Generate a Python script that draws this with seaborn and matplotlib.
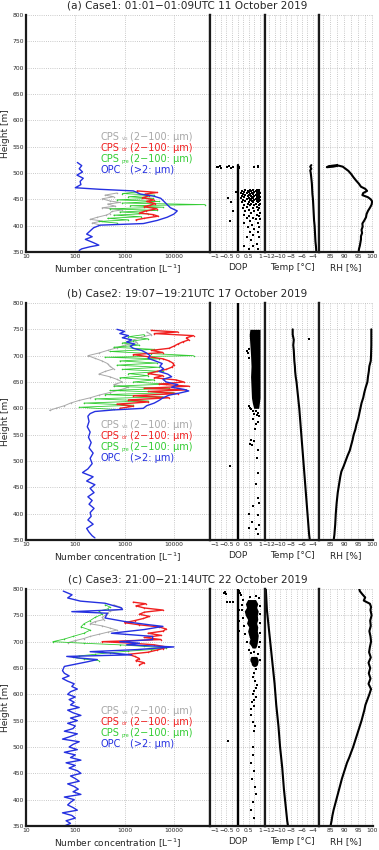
import numpy as np
import matplotlib
matplotlib.use("Agg")
import matplotlib.pyplot as plt
import seaborn as sns

# --------------------------------------------------
# DATA
# --------------------------------------------------

# ---- case 1 ----
opc_a_h = [520, 514, 508, 502, 496, 490, 484, 478, 472, 469, 466, 460, 456, 452, 446, 440, 434,
           428, 422, 416, 410, 404, 401, 396, 390, 384, 379, 374, 368, 363, 360, 356, 353]
opc_a_v = [110, 135, 120, 140, 108, 145, 125, 130, 100, 320, 1500, 2100, 3900, 5400, 6300, 7300, 8500,
           11700, 10000, 7300, 4600, 2400, 320, 235, 200, 170, 220, 160, 230, 300, 200, 135, 120]
red_a_h = [466, 463, 460, 457, 453, 449, 446, 442, 439, 436, 432, 428, 424, 421, 418, 414, 411]
red_a_v = [1800, 4600, 2600, 3200, 2300, 3900, 2800, 4200, 3300, 2500, 4500, 2700, 2000, 3800, 4800, 2500, 1700]
grn_a_h = [464, 461, 458, 455, 452, 449, 446, 443, 440, 438, 435, 432, 429, 426, 423, 420, 417, 414, 411, 408, 405]
grn_a_v = [1800, 900, 4000, 1200, 3800, 700, 5000, 900, 43000, 1300, 6000, 500, 4500, 800, 3000, 600,
           2200, 450, 1200, 300, 700]
gry_a_h = [462, 458, 455, 451, 447, 444, 441, 437, 434, 430, 427, 423, 420, 416, 412, 409, 405, 402]
gry_a_v = [700, 400, 600, 350, 500, 800, 450, 650, 350, 900, 550, 500, 420, 280, 200, 350, 220, 300]

dop_a_h = [512, 511, 513, 510, 512, 513, 510, 511, 512, 510, 512, 511, 513,
           468, 468, 468, 468, 468, 466, 466, 466, 466, 466, 464, 464, 464, 464, 464,
           462, 462, 462, 462, 462, 460, 460, 460, 460, 458, 458, 458, 458,
           456, 456, 456, 456, 456, 454, 454, 454, 454, 452, 452, 452, 452, 452,
           450, 450, 450, 450, 448, 448, 448, 448, 446, 446, 446, 446,
           444, 444, 444, 444, 444, 442, 442, 442, 442, 440, 440, 440, 440,
           436, 436, 433, 433, 433, 430, 430, 427, 427, 427, 424, 424, 421, 421, 418, 418,
           415, 415, 412, 412, 408, 408, 405, 405, 402, 398, 398, 393, 388, 388, 383,
           378, 378, 372, 366, 361, 361, 356, 356]
dop_a_v = [-0.92, -0.85, -0.78, -0.72, -0.45, -0.38, -0.3, -0.18, 0.05, 0.08, 0.75, 0.9, 0.93,
           0.35, 0.55, 0.7, 0.85, 0.95, 0.2, 0.45, 0.6, 0.8, 0.95, -0.05, 0.3, 0.5, 0.75, 0.9,
           0.15, 0.4, 0.65, 0.85, 1.0, 0.25, 0.55, 0.7, 0.9, 0.35, 0.5, 0.8, 0.95,
           0.2, 0.45, 0.6, 0.75, 0.9, 0.3, 0.65, 0.85, 1.0, -0.4, 0.15, 0.5, 0.7, 0.95,
           0.4, 0.6, 0.8, 0.9, 0.25, 0.55, 0.75, 1.0, 0.35, 0.65, 0.85, 0.95,
           -0.3, 0.2, 0.5, 0.7, 0.9, 0.45, 0.6, 0.8, 1.0, 0.3, 0.55, 0.75, 0.95,
           0.4, 0.85, 0.25, 0.7, 0.95, 0.5, 0.9, -0.2, 0.35, 0.75, 0.6, 1.0, 0.3, 0.85, 0.5, 0.95,
           0.4, 0.7, 0.8, 1.0, -0.35, 0.55, 0.3, 0.9, 0.65, 0.45, 0.95, 0.75, 0.55, 0.9, 0.7,
           0.4, 0.95, 0.6, 0.85, 0.3, 0.7, 0.5, 0.9]

tmp_a_h = [515, 512, 508, 505, 500, 490, 480, 470, 460, 450, 440, 430, 420, 410, 400, 390, 380, 370, 360, 352]
tmp_a_v = [-4.3, -4.5, -4.3, -4.5, -4.4, -4.3, -4.2, -4.15, -4.1, -4.0, -3.95, -3.9, -3.85, -3.8,
           -3.7, -3.65, -3.6, -3.55, -3.45, -3.4]
rh_a_h = [515, 513, 511, 512, 514, 512, 508, 504, 498, 492, 486, 480, 474, 470, 466, 462, 458, 454,
          450, 446, 440, 434, 428, 422, 416, 410, 404, 398, 392, 386, 380, 374, 368, 362, 356, 352]
rh_a_v = [87.5, 84.5, 83.8, 86, 88, 89.5, 90.5, 91.5, 92.5, 93.3, 94.2, 95.2, 96, 97.5, 98.2, 96.8,
          96.5, 98.5, 99.5, 100, 99.8, 99.2, 98.5, 98, 97.8, 97.2, 96.5, 96.6, 96.2, 96.4, 96, 96,
          95.8, 95.6, 95.3, 95.2]

# ---- case 2 ----
opc_b_h = [750, 746, 742, 738, 734, 730, 726, 722, 718, 714, 710, 705, 700, 695, 690, 685, 680,
           675, 670, 665, 660, 655, 650, 645, 640, 636, 633, 629, 625, 620, 615, 610, 605, 600,
           597, 594, 590, 585, 575, 565, 555, 545, 535, 525, 515, 505, 495, 485, 478, 470, 462,
           455, 448, 440, 432, 425, 418, 410, 402, 395, 388, 380, 372, 365, 358, 354]
opc_b_v = [700, 1000, 800, 1200, 900, 1400, 1100, 1600, 1300, 1500, 2200, 2800, 3300, 3000, 4200,
           5800, 5200, 6200, 5000, 7500, 9000, 6000, 7000, 12000, 9000, 16000, 20000, 13000, 8000,
           6000, 5000, 4000, 2800, 2400, 600, 250, 200, 180, 190, 175, 200, 185, 210, 190, 230,
           200, 220, 180, 140, 230, 170, 250, 200, 240, 180, 220, 190, 240, 200, 210, 180, 230,
           170, 190, 220, 250]
red_b_h = [748, 745, 742, 738, 734, 730, 726, 722, 718, 714, 710, 706, 702, 698, 694, 690, 686, 682,
           678, 674, 670, 666, 662, 658, 654, 650, 646, 642, 638, 635, 632, 628, 624, 620, 616, 612,
           608, 604, 600]
red_b_v = [3500, 12000, 4000, 25000, 18000, 20000, 15000, 12000, 10000, 8000, 3500, 6000, 1500, 3000,
           6000, 8000, 9500, 10000, 9000, 7000, 4500, 3000, 6000, 4000, 11000, 16000, 5000, 20000,
           2500, 18000, 3000, 12000, 1500, 8000, 1200, 3000, 700, 1500, 800]
grn_b_h = [740, 736, 732, 728, 724, 720, 716, 712, 708, 704, 700, 697, 694, 690, 686, 682, 678, 674,
           670, 666, 662, 658, 654, 650, 646, 642, 638, 634, 630, 626, 622, 618, 614, 610, 606, 602, 598]
grn_b_v = [2500, 1200, 3000, 1500, 900, 2000, 600, 4000, 500, 3500, 25000, 400, 5000, 800, 4500, 700,
           5000, 900, 6000, 1200, 3000, 800, 4000, 1500, 7000, 600, 8000, 500, 10000, 400, 6000, 250,
           3000, 150, 1500, 120, 600]
gry_b_h = [745, 740, 735, 730, 725, 720, 715, 710, 705, 700, 695, 690, 685, 680, 675, 670, 665, 660,
           655, 650, 645, 640, 635, 630, 625, 620, 615, 610, 605, 600, 596]
gry_b_v = [2800, 3500, 2200, 1500, 1800, 1000, 700, 450, 300, 180, 250, 350, 450, 500, 600, 400, 300,
           500, 700, 900, 600, 1200, 800, 500, 300, 200, 120, 80, 60, 40, 30]

# dense DOP block (edges) and single DOP samples
blk_b_h = [750, 740, 720, 700, 680, 660, 640, 620, 610, 600]
blk_b_lo = [0.55, 0.52, 0.55, 0.58, 0.6, 0.58, 0.6, 0.62, 0.66, 0.72]
blk_b_hi = [1.0, 1.0, 1.0, 1.0, 1.0, 1.0, 1.0, 1.0, 0.97, 0.94]
dop_b_h = [708, 705, 712, 695, 605, 600, 598, 595, 594, 592, 590, 588, 585, 580, 575, 570, 560, 540,
           538, 533, 530, 520, 505, 490, 478, 456, 430, 420, 415, 400, 398, 385, 378, 372, 370, 362]
dop_b_v = [0.4, 0.45, 0.52, 0.5, 0.5, 0.55, 0.62, 0.8, 0.68, 0.9, 0.72, 0.85, 0.95, 0.68, 0.9, 0.8,
           0.78, 0.6, 0.75, 0.55, 0.65, 0.9, 0.85, -0.32, 0.9, 0.8, 0.9, 0.95, 0.7, 0.5, 0.9, 0.65,
           0.95, 0.5, 0.8, 0.9]

tmp_b_h = [750, 740, 730, 720, 710, 700, 690, 680, 670, 660, 650, 640, 620, 600, 580, 560, 540, 520,
           500, 480, 460, 440, 420, 400, 380, 360, 352]
tmp_b_v = [-7.7, -7.7, -7.5, -7.6, -7.5, -7.45, -7.4, -7.3, -7.25, -7.15, -7.0, -6.9, -6.7, -6.5,
           -6.35, -6.2, -6.05, -5.9, -5.75, -5.6, -5.45, -5.3, -5.15, -5.0, -4.85, -4.7, -4.6]
tmp_b_out_h = [732]
tmp_b_out_v = [-4.8]
rh_b_h = [750, 720, 700, 690, 680, 670, 660, 650, 640, 630, 620, 610, 600, 590, 580, 570, 560, 550,
          540, 530, 520, 510, 500, 490, 480, 470, 460, 450, 440, 420, 400, 380, 360, 352]
rh_b_v = [99.7, 99.7, 99.6, 99.5, 99.0, 98.8, 98.5, 98.3, 97.7, 97.2, 96.8, 96.2, 95.8, 95.4, 95.0,
          94.4, 94.0, 93.4, 93.0, 92.5, 92.0, 91.2, 90.5, 89.8, 89.0, 88.6, 88.3, 88.0, 87.7, 87.3,
          87.0, 86.8, 86.5, 86.3]

# ---- case 3 ----
opc_c_h = [796, 789, 783, 777, 773, 764, 761, 757, 754, 745, 738, 732, 729, 723, 716, 710, 704, 700,
           697, 694, 690, 685, 681, 678, 675, 672, 669, 666, 662, 653, 645, 640, 635, 630, 625, 620,
           615, 610, 605, 600, 595, 590, 585, 580, 575, 570, 565, 560, 555, 550, 545, 540, 535, 530,
           525, 520, 515, 510, 505, 500, 495, 490, 485, 480, 475, 470, 465, 460, 455, 450, 445, 440,
           435, 430, 425, 420, 415, 410, 405, 400, 395, 390, 385, 380, 375, 370, 365, 360, 355, 350]
opc_c_v = [57, 86, 70, 127, 400, 870, 900, 85, 450, 400, 1040, 3200, 6000, 2500, 540, 3700, 3700, 800,
           2000, 1100, 10000, 1800, 200, 600, 1400, 67, 120, 280, 180, 60,
           55, 60, 75, 55, 70, 95, 85, 110, 80, 70, 100, 75, 95, 80, 120, 70, 90, 130, 80, 110,
           70, 100, 90, 60, 110, 80, 55, 120, 90, 75, 110, 60, 100, 80, 130, 65, 100, 75, 110, 130,
           80, 100, 120, 70, 95, 115, 90, 130, 60, 95, 80, 70, 90, 110, 55, 85, 100, 65, 80, 60]
red_c_h = [775, 772, 768, 764, 760, 756, 752, 748, 744, 740, 736, 732, 728, 724, 720, 716, 712, 708,
           704, 700, 697, 694, 690, 687, 684, 680, 676, 672, 668, 664, 660, 656]
red_c_v = [1500, 2700, 1700, 2500, 6000, 2500, 2000, 3200, 2400, 1600, 1000, 2000, 5000, 7000, 6000,
           3000, 5500, 2500, 5500, 350, 1500, 4000, 7000, 6000, 4500, 3000, 1200, 1600, 2000, 1700,
           2500, 2000]
grn_c_h = [770, 766, 762, 758, 752, 746, 740, 734, 728, 722, 716, 710, 705, 700, 697, 694, 691, 688,
           685, 682, 679, 676, 673, 670, 667, 664]
grn_c_v = [400, 500, 450, 300, 350, 250, 200, 150, 130, 200, 150, 90, 60, 35, 150, 800, 2500, 7000,
           3500, 1200, 500, 250, 120, 90, 150, 300]
gry_c_h = [770, 766, 762, 758, 754, 750, 746, 742, 738, 734, 730, 726, 722, 718, 714, 710, 706, 702, 698]
gry_c_v = [600, 800, 900, 500, 450, 400, 350, 380, 250, 200, 350, 500, 700, 450, 300, 200, 150, 100, 70]

blk_c_h = [780, 772, 765, 758, 750, 742, 735, 728, 720, 712, 705, 698, 692, 688]
blk_c_lo = [0.45, 0.35, 0.4, 0.3, 0.35, 0.45, 0.4, 0.5, 0.45, 0.5, 0.55, 0.5, 0.6, 0.65]
blk_c_hi = [0.8, 0.9, 0.85, 0.92, 0.88, 0.9, 0.85, 0.9, 0.88, 0.92, 0.9, 0.88, 0.85, 0.8]
blk_c2_h = [672, 668, 664, 660, 656, 653]
blk_c2_lo = [0.6, 0.55, 0.55, 0.6, 0.62, 0.7]
blk_c2_hi = [0.85, 0.9, 0.92, 0.9, 0.88, 0.8]
dop_c_h = [792, 790, 794, 776, 776, 775, 797, 793, 788, 760, 740, 720, 780, 770, 760, 745, 730, 715,
           700, 685, 680, 678, 676, 648, 640, 632, 625, 618, 612, 606, 600, 595, 590, 585, 578, 572,
           560, 548, 540, 530, 511, 500, 485, 470, 455, 440, 425, 410, 395, 380, 365, 784, 786, 782,
           768, 752, 736, 716, 700, 690, 666]
dop_c_v = [-0.62, -0.5, -0.55, -0.45, -0.35, -0.22, 0.05, 0.1, 0.15, 0.05, 0.08, 0.06, 0.25, 0.22,
           0.18, 0.25, 0.3, 0.35, 0.4, 0.5, 0.75, 0.62, 0.9, 0.8, 0.72, 0.7, 0.78, 0.85, 0.8, 0.72,
           0.68, 0.8, 0.75, 0.65, 0.72, 0.58, 0.6, 0.68, 0.78, 0.72, -0.4, 0.68, 0.7, 0.6, 0.72,
           0.65, 0.78, 0.82, 0.68, 0.6, 0.75, 0.55, 0.8, 0.95, 1.0, 0.98, 0.98, 0.98, 0.98, 0.95, 1.0]

tmp_c_h = [800, 780, 760, 740, 720, 700, 680, 660, 640, 620, 600, 580, 560, 540, 520, 500, 480, 460,
           440, 420, 400, 380, 360, 350]
tmp_c_v = [-12.6, -12.5, -12.4, -12.2, -12.0, -11.8, -11.6, -11.4, -11.2, -11.0, -10.85, -10.7,
           -10.5, -10.3, -10.15, -10.0, -9.8, -9.6, -9.45, -9.3, -9.1, -8.9, -8.7, -8.55]
rh_c_h = [800, 796, 790, 784, 778, 772, 766, 760, 750, 740, 730, 720, 710, 700, 690, 680, 670, 660,
          650, 640, 630, 620, 610, 600, 590, 580, 570, 560, 550, 540, 530, 520, 510, 500, 490, 480,
          470, 460, 450, 440, 430, 420, 410, 400, 390, 380, 370, 360, 352]
rh_c_v = [95.4, 95.6, 96.5, 97.5, 97.0, 99.2, 99.6, 99.4, 99.8, 99.3, 99.5, 99.0, 99.4, 99.6, 99.2,
          98.9, 99.5, 98.7, 99.3, 98.8, 99.4, 98.7, 99.6, 99.0, 98.3, 97.6, 97.2, 96.7, 96.2, 95.6,
          95.0, 94.4, 93.8, 93.2, 92.5, 91.8, 91.0, 90.4, 89.8, 89.2, 88.7, 88.2, 87.7, 87.2, 86.7,
          86.2, 85.8, 85.5, 85.2]

# heights covered by DOP = 0 samples
zero_a = [352, 515]
zero_b = [352, 800]
zero_c = [350, 800]

titles = ["(a) Case1: 01:01\u221201:09UTC 11 October 2019",
          "(b) Case2: 19:07\u221219:21UTC 17 October 2019",
          "(c) Case3: 21:00\u221221:14UTC 22 October 2019"]

legend_names = ["CPS", "CPS", "CPS", "OPC"]
legend_subs = ["vis", "cir", "pre", ""]
legend_ranges = ["(2\u2212100: \u03bcm)", "(2\u2212100: \u03bcm)", "(2\u2212100: \u03bcm)", "(>2: \u03bcm)"]

# --------------------------------------------------
# STYLE
# --------------------------------------------------

sns.set_style("white")
plt.rcParams['font.family'] = ['DejaVu Sans']

C_BLUE = "#2530e0"
C_RED = "#f02020"
C_GREEN = "#33cc33"
C_GRAY = "#a8a8a8"
GRID = dict(color="#b8b8b8", linestyle=(0, (1, 1.6)), linewidth=0.6)
TICK_FS = 4.3

fig = plt.figure(figsize=(3.79, 8.5), dpi=100)

X_MAIN = (26 / 379, 184 / 379)
X_DOP = (210 / 379, 55 / 379)
X_TMP = (265 / 379, 54 / 379)
X_RH = (319 / 379, 54 / 379)
PANEL_H = 237 / 850


def style_axis(ax, ylabels=False):
    ax.set_ylim(350, 800)
    ax.set_yticks(np.arange(350, 801, 50))
    if not ylabels:
        ax.set_yticklabels([])
    ax.grid(True, which="both", **GRID)
    ax.set_axisbelow(True)
    ax.tick_params(length=0, pad=1.5, labelsize=TICK_FS)
    ax.tick_params(which="minor", length=0)
    ax.set_xlabel("")
    ax.set_ylabel("")
    for s in ["left", "right", "bottom"]:
        ax.spines[s].set_linewidth(1.6)
        ax.spines[s].set_color("#1a1a1a")
    ax.spines["top"].set_visible(False)


def line(ax, x, y, color, lw, marker=None):
    sns.lineplot(x=x, y=y, sort=False, estimator=None, ax=ax, color=color, lw=lw,
                 marker=marker, markersize=2.2, markeredgewidth=0, legend=False)


def draw_panel(top_px, title, opc, red, grn, gry, dop_pts, blocks, zero, tmp, rh, tmp_out=None):
    bottom = 1 - (top_px + 237) / 850

    # ---- number concentration ----
    ax = fig.add_axes([X_MAIN[0], bottom, X_MAIN[1], PANEL_H])
    line(ax, gry[1], gry[0], C_GRAY, 0.7, ".")
    line(ax, grn[1], grn[0], C_GREEN, 0.6, ".")
    line(ax, red[1], red[0], C_RED, 1.0, ".")
    line(ax, opc[1], opc[0], C_BLUE, 1.0)
    ax.set_xscale("log")
    ax.set_xlim(10, 54000)
    ax.set_xticks([10, 100, 1000, 10000])
    ax.set_xticklabels(["10", "100", "1000", "10000"])
    ax.xaxis.set_minor_locator(matplotlib.ticker.NullLocator())
    style_axis(ax, ylabels=True)
    ax.set_ylabel("Height [m]", fontsize=6.5, labelpad=2)
    ax.set_xlabel("Number concentration [L$^{-1}$]", fontsize=6.5, labelpad=3)

    # legend written as text inside the panel
    cols = [C_GRAY, C_RED, C_GREEN, C_BLUE]
    for i in range(4):
        yy = 569 - i * 21.3
        ax.text(330, yy, legend_names[i], color=cols[i], fontsize=7.0, va="center",
                clip_on=False)
        if legend_subs[i]:
            ax.text(880, yy - 4, legend_subs[i], color=cols[i], fontsize=3.4, va="center",
                    clip_on=False)
        ax.text(1300, yy, legend_ranges[i], color=cols[i], fontsize=7.0, va="center",
                clip_on=False)

    # ---- DOP ----
    ax2 = fig.add_axes([X_DOP[0], bottom, X_DOP[1], PANEL_H])
    for bh, lo, hi in blocks:
        ax2.fill_betweenx(bh, lo, hi, color="k", lw=0)
    line(ax2, [0, 0], zero, "k", 1.7)
    sns.scatterplot(x=dop_pts[1], y=dop_pts[0], ax=ax2, marker="s", s=2.2, color="k",
                    linewidth=0, legend=False)
    ax2.set_xlim(-1.22, 1.22)
    ax2.set_xticks([-1, -0.5, 0, 0.5, 1])
    ax2.set_xticklabels(["\u22121", "\u22120.5", "0", "0.5", "1"])
    ax2.set_xticks(np.arange(-1, 1.01, 0.25), minor=True)
    style_axis(ax2)
    ax2.set_xlabel("DOP", fontsize=6.5, labelpad=3)

    # ---- temperature ----
    ax3 = fig.add_axes([X_TMP[0], bottom, X_TMP[1], PANEL_H])
    line(ax3, tmp[1], tmp[0], "k", 1.5)
    if tmp_out is not None:
        sns.scatterplot(x=tmp_out[1], y=tmp_out[0], ax=ax3, marker="s", s=3, color="k",
                        linewidth=0, legend=False)
    ax3.set_xlim(-12.75, -2.9)
    ax3.set_xticks([-12, -10, -8, -6, -4])
    ax3.set_xticklabels(["\u221212", "\u221210", "\u22128", "\u22126", "\u22124"])
    ax3.set_xticks(np.arange(-12, -2.9, 1), minor=True)
    style_axis(ax3)
    ax3.set_xlabel("Temp [\u00b0C]", fontsize=6.5, labelpad=3)

    # ---- RH ----
    ax4 = fig.add_axes([X_RH[0], bottom, X_RH[1], PANEL_H])
    line(ax4, rh[1], rh[0], "k", 1.5)
    ax4.set_xlim(81, 100.3)
    ax4.set_xticks([85, 90, 95, 100])
    ax4.set_xticks(np.arange(82.5, 100.1, 2.5), minor=True)
    style_axis(ax4)
    ax4.spines["right"].set_visible(False)
    ax4.set_xlabel("RH [%]", fontsize=6.5, labelpad=3)

    fig.text(0.495, 1 - (top_px - 9) / 850, title, ha="center", va="center", fontsize=7.6)


draw_panel(15, titles[0],
           (opc_a_h, opc_a_v), (red_a_h, red_a_v), (grn_a_h, grn_a_v), (gry_a_h, gry_a_v),
           (dop_a_h, dop_a_v), [], zero_a, (tmp_a_h, tmp_a_v), (rh_a_h, rh_a_v))
draw_panel(303, titles[1],
           (opc_b_h, opc_b_v), (red_b_h, red_b_v), (grn_b_h, grn_b_v), (gry_b_h, gry_b_v),
           (dop_b_h, dop_b_v), [(blk_b_h, blk_b_lo, blk_b_hi)], zero_b,
           (tmp_b_h, tmp_b_v), (rh_b_h, rh_b_v), tmp_out=(tmp_b_out_h, tmp_b_out_v))
draw_panel(589, titles[2],
           (opc_c_h, opc_c_v), (red_c_h, red_c_v), (grn_c_h, grn_c_v), (gry_c_h, gry_c_v),
           (dop_c_h, dop_c_v), [(blk_c_h, blk_c_lo, blk_c_hi), (blk_c2_h, blk_c2_lo, blk_c2_hi)],
           zero_c, (tmp_c_h, tmp_c_v), (rh_c_h, rh_c_v))

fig.savefig("out.png", dpi=100)
